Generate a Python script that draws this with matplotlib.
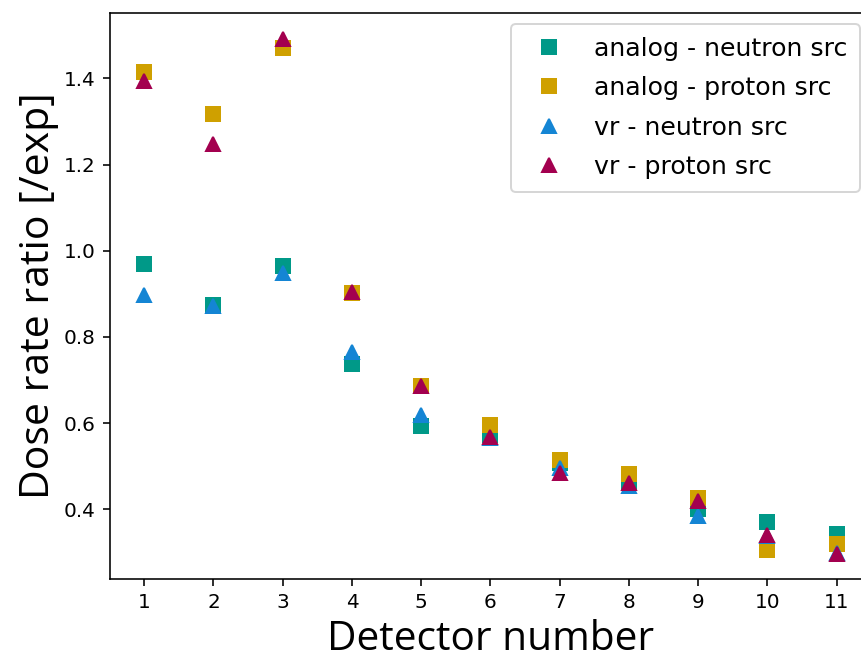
import matplotlib
matplotlib.use("Agg")
import matplotlib.pyplot as plt

detectors = [1, 2, 3, 4, 5, 6, 7, 8, 9, 10, 11]

analog_neutron = [0.969, 0.873, 0.964, 0.736, 0.592, 0.572, 0.508, 0.464, 0.400, 0.370, 0.342]
analog_proton = [1.414, 1.317, 1.470, 0.902, 0.686, 0.596, 0.514, 0.481, 0.426, 0.305, 0.320]
vr_neutron = [0.897, 0.872, 0.949, 0.765, 0.619, 0.565, 0.495, 0.453, 0.385, 0.338, 0.298]
vr_proton = [1.395, 1.248, 1.492, 0.904, 0.686, 0.568, 0.483, 0.461, 0.420, 0.340, 0.297]

labels = ["analog - neutron src", "analog - proton src", "vr - neutron src", "vr - proton src"]
colors = ["#009988", "#CFA000", "#1485D4", "#A3004F"]
markers = ["s", "s", "^", "^"]

DPI = 144
W, H = 861, 658
fig = plt.figure(figsize=(W / DPI, H / DPI), dpi=DPI)
left, right, top, bottom = 109.5, 871.3, 13.0, 579.3
ax = fig.add_axes([left / W, 1 - bottom / H, (right - left) / W, (bottom - top) / H])

for series, lab, col, mk in zip([analog_neutron, analog_proton, vr_neutron, vr_proton],
                                labels, colors, markers):
    ax.plot(detectors, series, linestyle="none", marker=mk, markersize=7,
            color=col, label=lab)

ax.set_xticks(detectors)
ax.set_xlabel("Detector number", fontsize=20.3, family="Open Sans", labelpad=3.5)
ax.set_ylabel("Dose rate ratio [/exp]", fontsize=20.5, family="Open Sans", labelpad=2.5)
ax.legend(loc="upper right", fontsize=12.6, labelspacing=0.61, borderpad=0.5,
          borderaxespad=0.45)

fig.savefig("out.png", dpi=DPI)
